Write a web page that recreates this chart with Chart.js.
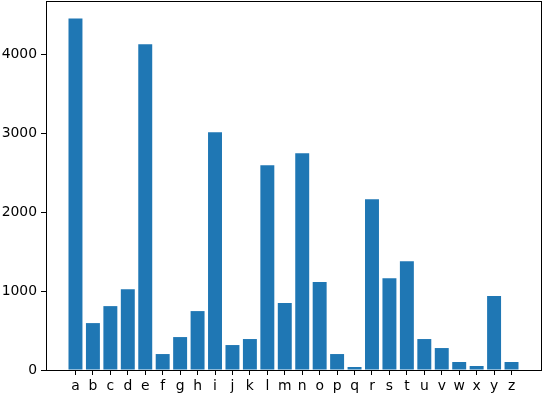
<!DOCTYPE html>
<html>
<head>
<meta charset="utf-8">
<script src="https://cdn.jsdelivr.net/npm/chart.js@4"></script>
<style>
  html, body { margin: 0; padding: 0; background: #fff; }
  #wrap { width: 543px; height: 394px; }
</style>
</head>
<body>
<div id="wrap"><canvas id="chart" width="543" height="394"></canvas></div>
<script>
// Letters and their counts
const letters = ['a','b','c','d','e','f','g','h','i','j','k','l','m','n','o','p','q','r','s','t','u','v','w','x','y','z'];
const counts = [4450, 594, 809, 1024, 4126, 202, 417, 746, 3010, 316, 392, 2592, 847, 2744, 1113, 202, 38, 2162, 1163, 1378, 392, 278, 101, 51, 936, 101];
const yTicks = [0, 1000, 2000, 3000, 4000];

// matplotlib-like margins around the data
const yMax = Math.max(...counts) * 1.05;
const xMin = -0.4 - 0.05 * (letters.length - 0.2);
const xMax = letters.length - 0.6 + 0.05 * (letters.length - 0.2);

Chart.defaults.font.family = '"DejaVu Sans", sans-serif';
Chart.defaults.font.size = 13.9;
Chart.defaults.color = '#000';

// draw the full axes box
const frame = {
    id: 'frame',
    afterDraw(chart) {
        const { ctx, chartArea: a } = chart;
        ctx.save();
        ctx.strokeStyle = '#000';
        ctx.lineWidth = 1;
        ctx.strokeRect(Math.round(a.left) + 0.5, Math.round(a.top) + 0.5,
            Math.round(a.right - a.left), Math.round(a.bottom - a.top));
        ctx.restore();
    }
};

new Chart(document.getElementById('chart'), {
    type: 'bar',
    data: {
        datasets: [{
            data: counts.map((v, i) => ({ x: i, y: v })),
            backgroundColor: '#1f77b4',
            barPercentage: 0.8,
            categoryPercentage: 1.0
        }]
    },
    options: {
        responsive: false,
        animation: false,
        devicePixelRatio: 1,
        layout: { padding: { top: 1, right: 2, left: 0, bottom: 0 } },
        plugins: { legend: { display: false }, tooltip: { enabled: false } },
        scales: {
            x: {
                type: 'linear',
                min: xMin,
                max: xMax,
                offset: false,
                grid: { drawOnChartArea: false, offset: false, tickLength: 5, color: '#000' },
                border: { display: false },
                ticks: {
                    stepSize: 1,
                    padding: 3,
                    maxRotation: 0,
                    autoSkip: false,
                    callback: v => letters[v] || ''
                },
                afterBuildTicks: s => {
                    s.ticks = letters.map((_, i) => ({ value: i }));
                },
                afterFit: s => {
                    s.height = 24;
                    s.paddingLeft = 0;
                    s.paddingRight = 0;
                }
            },
            y: {
                min: 0,
                max: yMax,
                grid: { drawOnChartArea: false, tickLength: 5, color: '#000' },
                border: { display: false },
                ticks: { padding: 4, callback: v => String(v) },
                afterBuildTicks: s => {
                    s.ticks = yTicks.map(v => ({ value: v }));
                },
                afterFit: s => {
                    s.width = 46;
                    s.paddingTop = 0;
                    s.paddingBottom = 0;
                }
            }
        }
    },
    plugins: [frame]
});
</script>
</body>
</html>
